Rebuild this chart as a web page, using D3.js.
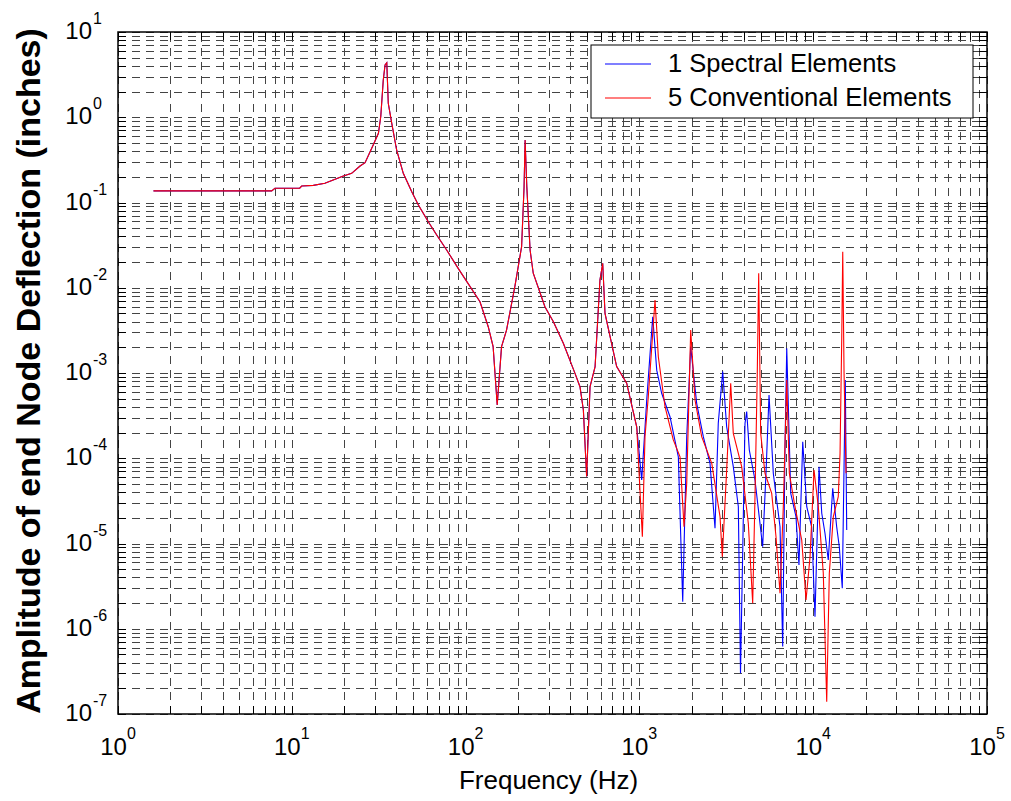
<!DOCTYPE html>
<html>
<head>
<meta charset="utf-8">
<script src="https://cdn.jsdelivr.net/npm/d3@7"></script>
<style>
body { margin: 0; background: #fff; }
text { font-family: "Liberation Sans", Arial, sans-serif; }
</style>
</head>
<body>
<svg id="chart" width="1011" height="801"></svg>
<script>
// decade labels
var xExponents = [0, 1, 2, 3, 4, 5];
var yExponents = [-7, -6, -5, -4, -3, -2, -1, 0, 1];

// both models agree up to about 1 kHz
var sharedFreq = [1.60, 7.66, 8.0, 11.1, 11.4, 13.3, 15.5, 17.3, 19.8, 22.1, 24.7, 26.4, 29.4, 31.5, 32.5, 33.6, 34.4, 35.2, 35.9, 37.6, 40.1, 43.8, 49.0, 53.5, 61.0, 68.2, 77.8, 92.0, 121, 135, 144, 152, 161, 172, 192, 210, 217, 220, 225, 235, 245, 286, 320, 365, 426, 455, 476, 497, 520, 556, 593, 615, 634, 740, 845, 965];
var sharedAmp = [0.137, 0.137, 0.147, 0.147, 0.156, 0.159, 0.168, 0.184, 0.205, 0.220, 0.268, 0.293, 0.472, 0.648, 1.02, 2.74, 4.10, 4.36, 1.46, 0.849, 0.413, 0.220, 0.134, 0.0935, 0.0595, 0.0416, 0.0277, 0.0161, 0.00686, 0.00349, 0.00204, 0.000422, 0.00204, 0.00319, 0.0103, 0.0303, 0.153, 0.541, 0.153, 0.0277, 0.0148, 0.0060, 0.0040, 0.00223, 0.00099, 0.00069, 0.000368, 6.1e-5, 0.00069, 0.00119, 0.0123, 0.0194, 0.0050, 0.00119, 0.00076, 0.000234];

// 1 spectral element, above 1 kHz
var spectralFreq = [1031, 1102, 1193, 1258, 1343, 1500, 1675, 1775, 1872, 1973, 2136, 2332, 2548, 2723, 2843, 3015, 3178, 3469, 3709, 3817, 4052, 4143, 4289, 4625, 5119, 5350, 5570, 5894, 6443, 6676, 6883, 7043, 7425, 7961, 8283, 8706, 9180, 9800, 10240, 10800, 11200, 11690, 12210, 12950, 13650, 14130, 14700, 15300, 15590];
var spectralAmp = [5.56e-5, 4.82e-4, 4.57e-3, 1.08e-3, 5.78e-4, 3.07e-4, 1.04e-4, 2.08e-6, 1.79e-4, 2.04e-3, 4.41e-4, 1.79e-4, 8.73e-5, 1.51e-5, 2.57e-4, 1.04e-3, 2.34e-4, 7.96e-5, 2.70e-5, 3.0e-7, 2.57e-4, 3.52e-4, 1.25e-4, 5.56e-5, 9.17e-6, 6.66e-5, 5.52e-4, 6.66e-5, 1.57e-5, 6.2e-7, 1.37e-4, 1.95e-3, 3.88e-5, 2.06e-5, 5.6e-6, 1.56e-4, 2.70e-5, 1.57e-5, 1.38e-6, 7.96e-5, 2.26e-5, 1.32e-5, 6.4e-6, 4.44e-5, 1.57e-5, 9.17e-6, 2.98e-6, 8.28e-4, 1.44e-5];

// 5 conventional elements, above 1 kHz
var conventionalFreq = [1040, 1077, 1125, 1230, 1285, 1404, 1567, 1713, 1806, 1872, 1973, 2089, 2282, 2608, 2910, 3000, 3178, 3352, 3469, 3877, 4233, 4486, 4625, 4767, 4857, 4986, 5280, 5770, 6110, 6443, 6730, 7043, 7290, 7855, 8590, 9095, 9590, 10110, 10700, 11430, 11960, 12380, 13050, 13940, 14270, 14590, 14790, 15050, 15450];
var conventionalAmp = [1.20e-5, 1.79e-4, 5.27e-4, 7.18e-3, 1.55e-3, 4.02e-4, 1.64e-4, 1.04e-4, 1.57e-5, 5.08e-5, 3.19e-3, 4.82e-4, 1.79e-4, 8.73e-5, 2.06e-5, 7.0e-6, 7.28e-5, 7.57e-4, 1.96e-4, 7.96e-5, 1.73e-5, 1.99e-6, 3.54e-5, 9.9e-4, 1.48e-2, 1.96e-4, 6.66e-5, 3.88e-5, 1.20e-5, 2.61e-6, 2.70e-5, 8.28e-4, 6.66e-5, 2.70e-5, 1.10e-5, 2.17e-6, 7.0e-6, 7.28e-5, 2.70e-5, 4.47e-6, 1.39e-7, 4.47e-6, 2.06e-5, 3.54e-5, 1.14e-4, 2.44e-3, 2.65e-2, 9.9e-4, 6.66e-5];

var seriesNames = ["1 Spectral Elements", "5 Conventional Elements"];
var seriesColors = ["#0000ff", "#ff0000"];

// plot box (window.top is reserved, so prefix everything)
var plotLeft = 118, plotRight = 987, plotTop = 32, plotBottom = 714;

var svg = d3.select("#chart");

var x = d3.scaleLog().domain([1, 1e5]).range([plotLeft, plotRight]);
var y = d3.scaleLog().domain([1e-7, 10]).range([plotBottom, plotTop]);

// all grid / tick positions: 1..9 x every decade
var xAll = [], yAll = [];
xExponents.forEach(function(e) {
  for (var k = 1; k < 10; k++) {
    if (e < 5 || k == 1) xAll.push(k * Math.pow(10, e));
  }
});
yExponents.forEach(function(e) {
  for (var k = 1; k < 10; k++) {
    if (e < 1 || k == 1) yAll.push(k * Math.pow(10, e));
  }
});

svg.append("rect").attr("x", 0).attr("y", 0).attr("width", 1011).attr("height", 801).attr("fill", "#fff");

// dashed grid
svg.append("g")
    .attr("class", "grid")
    .attr("transform", "translate(0," + plotBottom + ")")
    .call(d3.axisBottom(x).tickValues(xAll).tickSize(-(plotBottom - plotTop)).tickFormat(""));

svg.append("g")
    .attr("class", "grid")
    .attr("transform", "translate(" + plotLeft + ",0)")
    .call(d3.axisLeft(y).tickValues(yAll).tickSize(-(plotRight - plotLeft)).tickFormat(""));

svg.selectAll(".grid .domain").remove();
svg.selectAll(".grid line")
    .attr("stroke", "#444")
    .attr("stroke-width", 1)
    .attr("stroke-dasharray", "8,6")
    .attr("shape-rendering", "crispEdges");

// inward ticks on all four sides
var tickLen = 8;
svg.append("g").attr("class", "ticks").attr("transform", "translate(0," + plotBottom + ")")
    .call(d3.axisBottom(x).tickValues(xAll).tickSize(-tickLen).tickFormat(""));
svg.append("g").attr("class", "ticks").attr("transform", "translate(0," + plotTop + ")")
    .call(d3.axisTop(x).tickValues(xAll).tickSize(-tickLen).tickFormat(""));
svg.append("g").attr("class", "ticks").attr("transform", "translate(" + plotLeft + ",0)")
    .call(d3.axisLeft(y).tickValues(yAll).tickSize(-tickLen).tickFormat(""));
svg.append("g").attr("class", "ticks").attr("transform", "translate(" + plotRight + ",0)")
    .call(d3.axisRight(y).tickValues(yAll).tickSize(-tickLen).tickFormat(""));

svg.selectAll(".ticks .domain").remove();
svg.selectAll(".ticks line").attr("stroke", "#000").attr("shape-rendering", "crispEdges");

// curves
var line = d3.line()
    .x(function(d) { return x(d[0]); })
    .y(function(d) { return y(d[1]); });

var spectral = d3.zip(sharedFreq.concat(spectralFreq), sharedAmp.concat(spectralAmp));
var conventional = d3.zip(sharedFreq.concat(conventionalFreq), sharedAmp.concat(conventionalAmp));

svg.append("path")
    .datum(spectral)
    .attr("fill", "none")
    .attr("stroke", seriesColors[0])
    .attr("stroke-width", 1.1)
    .attr("d", line);

svg.append("path")
    .datum(conventional)
    .attr("fill", "none")
    .attr("stroke", seriesColors[1])
    .attr("stroke-width", 1.1)
    .attr("d", line);

// box
svg.append("rect")
    .attr("x", plotLeft).attr("y", plotTop)
    .attr("width", plotRight - plotLeft).attr("height", plotBottom - plotTop)
    .attr("fill", "none").attr("stroke", "#000").attr("stroke-width", 1.5);

// tick labels 10^n
var xl = svg.selectAll(".xlabel")
    .data(xExponents)
    .enter()
    .append("text")
    .attr("class", "xlabel")
    .attr("x", function(d) { return x(Math.pow(10, d)); })
    .attr("y", 755)
    .attr("text-anchor", "middle")
    .attr("font-size", 24);
xl.append("tspan").text("10");
xl.append("tspan").attr("dy", -16).attr("font-size", 16).text(function(d) { return d; });

svg.selectAll(".ybase")
    .data(yExponents)
    .enter()
    .append("text")
    .attr("class", "ybase")
    .attr("x", 92)
    .attr("y", function(d) { return y(Math.pow(10, d)) + 7; })
    .attr("text-anchor", "end")
    .attr("font-size", 24)
    .text("10");

svg.selectAll(".yexp")
    .data(yExponents)
    .enter()
    .append("text")
    .attr("class", "yexp")
    .attr("x", 93)
    .attr("y", function(d) { return y(Math.pow(10, d)) - 8; })
    .attr("font-size", 16)
    .text(function(d) { return d; });

// axis titles
svg.append("text")
    .attr("x", (plotLeft + plotRight) / 2 - 4)
    .attr("y", 789)
    .attr("text-anchor", "middle")
    .attr("font-size", 26)
    .text("Frequency (Hz)");

svg.append("text")
    .attr("transform", "translate(40," + ((plotTop + plotBottom) / 2 - 2) + ") rotate(-90)")
    .attr("text-anchor", "middle")
    .attr("font-size", 34)
    .attr("font-weight", "bold")
    .text("Amplitude of end Node Deflection (inches)");

// legend
var legend = svg.append("g").attr("class", "legend");
legend.append("rect")
    .attr("x", 591).attr("y", 45).attr("width", 382).attr("height", 73)
    .attr("fill", "#fff").attr("stroke", "#000").attr("stroke-width", 1);

seriesNames.forEach(function(name, i) {
  var yy = 64 + i * 34;
  legend.append("line")
      .attr("x1", 605).attr("x2", 651)
      .attr("y1", yy).attr("y2", yy)
      .attr("stroke", seriesColors[i]).attr("stroke-width", 1.1);
  legend.append("text")
      .attr("x", 668).attr("y", yy + 8)
      .attr("font-size", 25.5)
      .text(name);
});
</script>
</body>
</html>
